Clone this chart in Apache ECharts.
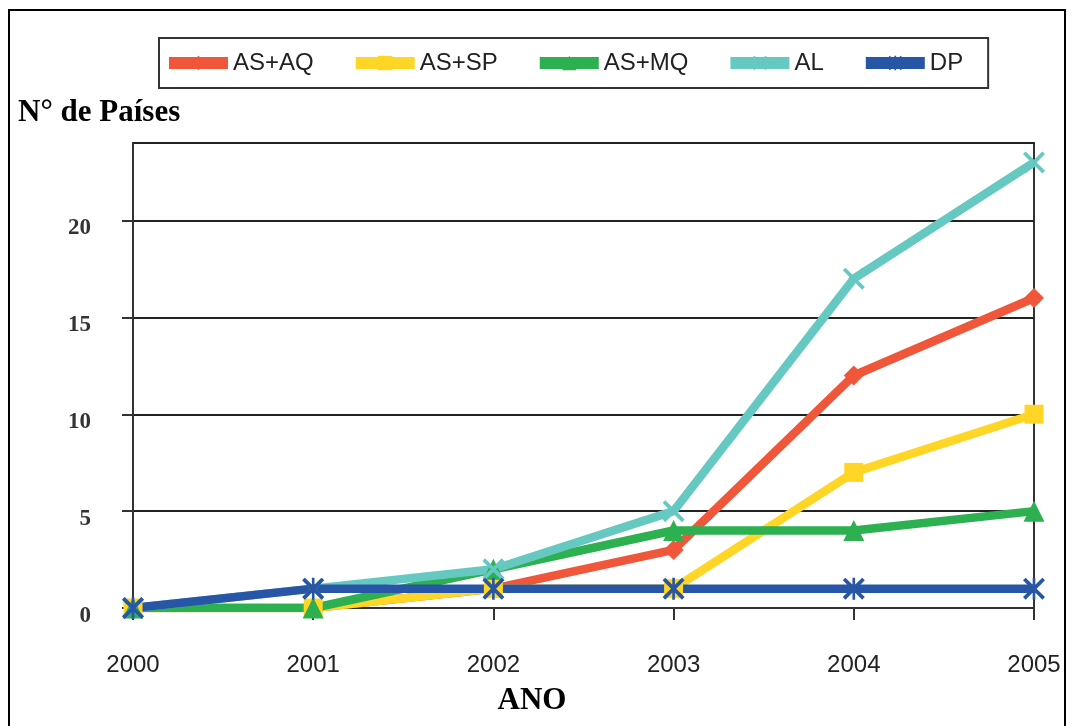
<!DOCTYPE html>
<html><head><meta charset="utf-8">
<script src="https://cdn.jsdelivr.net/npm/echarts@6/dist/echarts.min.js"></script>
<style>html,body{margin:0;padding:0;background:#fff}#c{width:1073px;height:726px}</style>
</head><body><div id="c"></div>
<script>
const years = ['2000','2001','2002','2003','2004','2005'];
const asAQ = [0,0,1,3,12,16];
const asSP = [0,0,1,1,7,10];
const asMQ = [0,0,2,4,4,5];
const al   = [0,1,2,5,17,23];
const dp   = [0,1,1,1,1,1];
const yTicks = [0,5,10,15,20];

const X_PATH = 'path://M0,1.2L1.2,0L5,3.8L8.8,0L10,1.2L6.2,5L10,8.8L8.8,10L5,6.2L1.2,10L0,8.8L3.8,5Z';
const AST_PATH = 'path://M0,1.2L1.2,0L5,3.8L8.8,0L10,1.2L6.2,5L10,8.8L8.8,10L5,6.2L1.2,10L0,8.8L3.8,5Z M4.4,0L5.6,0L5.6,10L4.4,10Z';

function mk(name, data, color, symbol, size){
  return {name, type:'line', data, symbol, symbolSize:size, showSymbol:true,
    lineStyle:{color, width:8.5}, itemStyle:{color, borderWidth:0}, z:2, animation:false};
}
const chart = echarts.init(document.getElementById('c'), null, {renderer:'canvas'});
chart.setOption({
  animation:false,
  backgroundColor:'#fff',
  graphic:[
    {type:'rect', shape:{x:9, y:10, width:1056, height:730}, style:{fill:'none', stroke:'#000', lineWidth:2}, z:0},
    {type:'text', left:18, top:97, style:{text:'N° de Países', font:'bold 31px "Liberation Serif"', fill:'#000'}},
    {type:'text', x:532, y:685, style:{text:'ANO', font:'bold 31px "Liberation Serif"', fill:'#000', align:'center'}}
  ],
  legend:{
    left:159, top:38, padding:[13,25,13,4], itemGap:36, itemWidth:59, itemHeight:18,
    borderColor:'#333', borderWidth:2,
    lineStyle:{width:12},
    textStyle:{fontFamily:'Liberation Sans', fontSize:24, color:'#222'},
    data:['AS+AQ','AS+SP','AS+MQ','AL','DP']
  },
  grid:{left:133, right:39, top:143, bottom:118, show:true, borderColor:'#333', borderWidth:2, backgroundColor:'transparent'},
  xAxis:{type:'category', data:years, boundaryGap:false,
    axisLine:{lineStyle:{color:'#333', width:2}},
    axisTick:{show:true, length:12, lineStyle:{color:'#333', width:2}, alignWithLabel:true},
    axisLabel:{fontFamily:'Liberation Sans', fontSize:24, color:'#222', margin:45}},
  yAxis:{type:'value', min:0, max:24, interval:5,
    axisLine:{show:true, lineStyle:{color:'#333', width:2}},
    axisTick:{show:true, length:11, lineStyle:{color:'#333', width:2}},
    splitLine:{show:true, lineStyle:{color:'#222', width:2}},
    axisLabel:{margin:42, showMaxLabel:false,
      formatter:v => yTicks.includes(v) ? '{a|' + v + '}' : '',
      rich:{a:{fontFamily:'Liberation Serif', fontWeight:'bold', fontSize:23, color:'#333', padding:[16,0,0,0]}}}},
  series:[
    mk('AS+AQ', asAQ, '#F0563A', 'diamond', 20),
    mk('AS+SP', asSP, '#FFD526', 'rect', 19),
    mk('AS+MQ', asMQ, '#2CB050', 'triangle', 21),
    mk('AL', al, '#66C9C1', X_PATH, 22),
    mk('DP', dp, '#2756A6', AST_PATH, 22)
  ]
});
</script></body></html>
